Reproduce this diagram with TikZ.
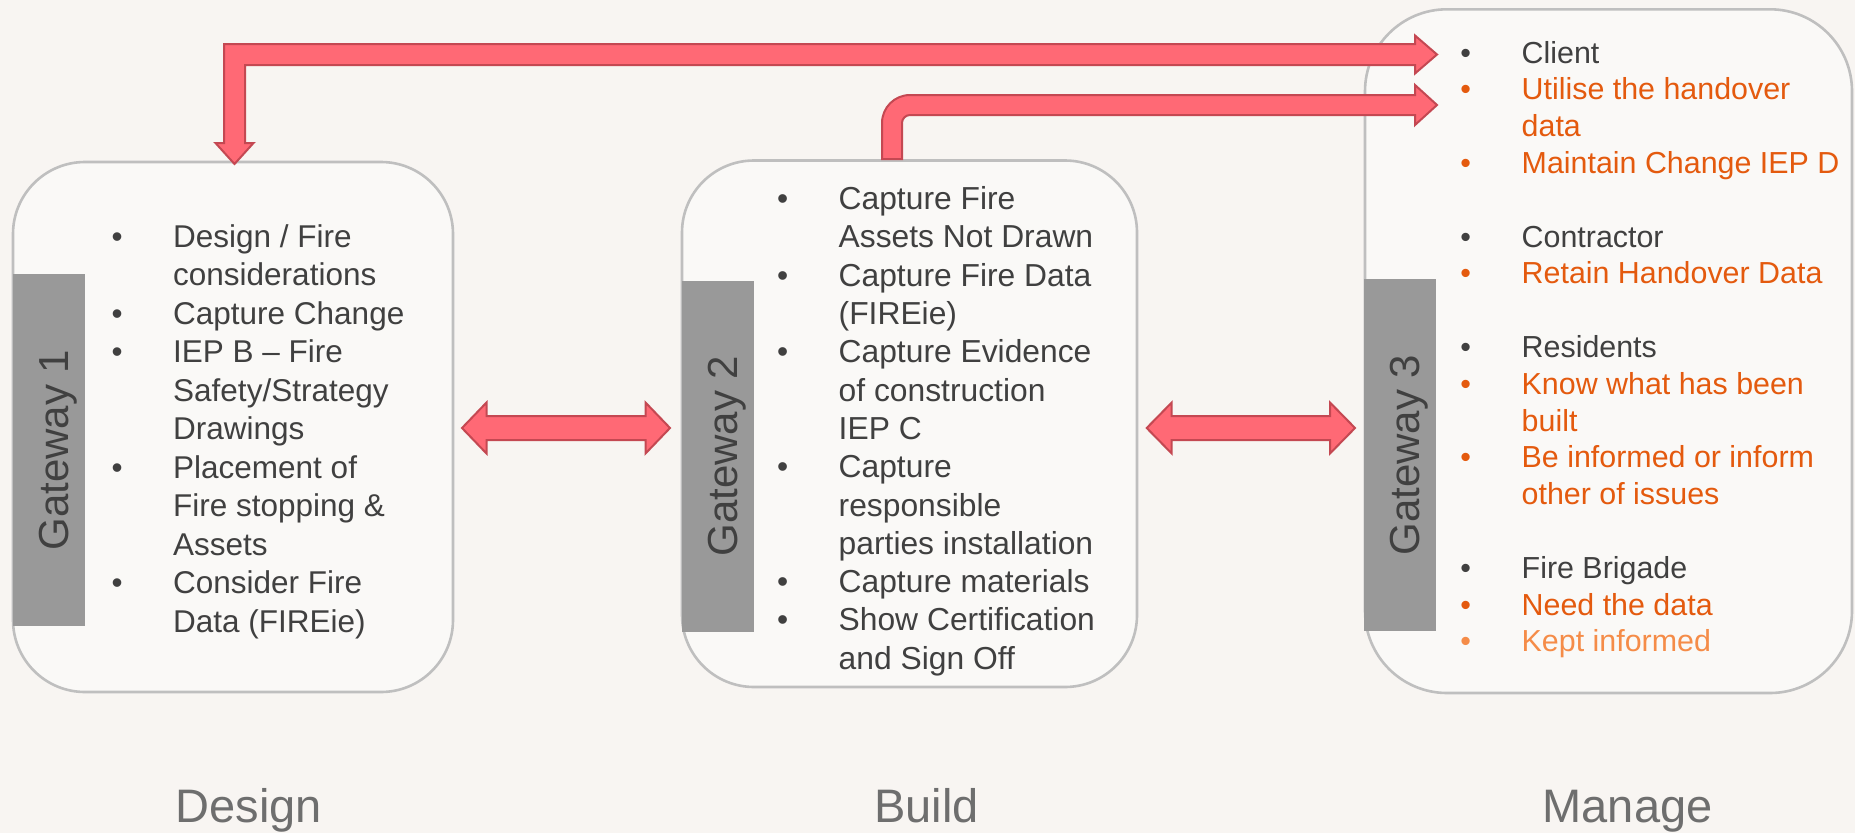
\documentclass[tikz,border=0pt]{standalone}
\usepackage{fontspec}
\setmainfont{Liberation Sans}
\definecolor{bgc}{RGB}{248,245,242}
\definecolor{boxfill}{RGB}{250,249,247}
\definecolor{boxline}{RGB}{191,191,191}
\definecolor{barc}{RGB}{153,153,153}
\definecolor{txt}{RGB}{64,64,64}
\definecolor{org}{RGB}{228,90,14}
\definecolor{lorg}{RGB}{245,140,72}
\definecolor{arrfill}{RGB}{255,105,117}
\definecolor{arrline}{RGB}{196,72,82}
\definecolor{lab}{RGB}{110,110,110}
\newcommand\bu{\makebox[20pt][c]{\textbullet}\hspace*{46pt}}
\newcommand\bx{\hspace*{66pt}}
\begin{document}
\begin{tikzpicture}[x=1pt,y=-1pt,
  box/.style={draw=boxline, line width=2.6pt, fill=boxfill, inner sep=0pt},
  bar/.style={fill=barc, inner sep=0pt, minimum width=72pt},
  gw/.style={rotate=90, anchor=base, text=txt, inner sep=0pt, font=\fontsize{42}{50}\selectfont},
  blockarrow/.style={fill=arrfill, draw=arrline, line width=2pt, line join=miter},
  list/.style={anchor=base west, inner sep=0pt, text=txt},
  phase/.style={anchor=base, text=lab, inner sep=0pt, font=\fontsize{47}{56}\selectfont}]
\fill[bgc] (0,0) rectangle (1855,833);
\useasboundingbox (0,0) rectangle (1855,833);

% boxes
\node[box, minimum width=440pt, minimum height=530pt, rounded corners=72pt] (b1) at (233,427) {};
\node[box, minimum width=455pt, minimum height=526.5pt, rounded corners=72pt] (b2) at (909.5,423.75) {};
\node[box, minimum width=487pt, minimum height=683.7pt, rounded corners=82pt] (b3) at (1608.5,351.15) {};

% gateway bars
\node[bar, minimum height=352pt] (g1) at (49,450) {};
\node[bar, minimum height=351pt] (g2) at (718,456) {};
\node[bar, minimum height=352pt] (g3) at (1400,455) {};
\node[gw] (g1t) at (68,450) {Gateway 1};
\node[gw] (g2t) at (737,456) {Gateway 2};
\node[gw] (g3t) at (1419,455) {Gateway 3};

% lists
\node[list, font=\fontsize{31.5}{38.5}\selectfont] (l1) at (107,247) {%
\begin{tabular}[t]{@{}l@{}}
\bu Design / Fire\\
\bx considerations\\
\bu Capture Change\\
\bu IEP B – Fire\\
\bx Safety/Strategy\\
\bx Drawings\\
\bu Placement of\\
\bx Fire stopping \&\\
\bx Assets\\
\bu Consider Fire\\
\bx Data (FIREie)
\end{tabular}};

\node[list, font=\fontsize{31.8}{38.3}\selectfont] (l2) at (772.5,209.6) {%
\begin{tabular}[t]{@{}l@{}}
\bu Capture Fire\\
\bx Assets Not Drawn\\
\bu Capture Fire Data\\
\bx (FIREie)\\
\bu Capture Evidence\\
\bx of construction\\
\bx IEP C\\
\bu Capture\\
\bx responsible\\
\bx parties installation\\
\bu Capture materials\\
\bu Show Certification\\
\bx and Sign Off
\end{tabular}};

\node[list, font=\fontsize{30.4}{36.8}\selectfont] (l3) at (1455.5,63) {%
\begin{tabular}[t]{@{}l@{}}
\bu Client\\
{\color{org}\bu Utilise the handover}\\
{\color{org}\bx data}\\
{\color{org}\bu Maintain Change IEP D}\\
\\
\bu Contractor\\
{\color{org}\bu Retain Handover Data}\\
\\
\bu Residents\\
{\color{org}\bu Know what has been}\\
{\color{org}\bx built}\\
{\color{org}\bu Be informed or inform}\\
{\color{org}\bx other of issues}\\
\\
\bu Fire Brigade\\
{\color{org}\bu Need the data}\\
{\color{lorg}\bu Kept informed}
\end{tabular}};

% double arrows between boxes
\draw[blockarrow] (462,428) -- (486.5,402.5) -- (486.5,416) -- (645.5,416) -- (645.5,402.5)
  -- (670,428) -- (645.5,453.5) -- (645.5,440) -- (486.5,440) -- (486.5,453.5) -- cycle;
\draw[blockarrow] (1146.7,428) -- (1171.7,402.5) -- (1171.7,416) -- (1330,416) -- (1330,402.5)
  -- (1355,428) -- (1330,453.5) -- (1330,440) -- (1171.7,440) -- (1171.7,453.5) -- cycle;

% L arrow from Manage to Design (two heads)
\draw[blockarrow] (234.5,164) -- (253.5,143) -- (245,143) -- (245,65) -- (1415,65) -- (1415,73.5)
  -- (1437,54.5) -- (1415,35.5) -- (1415,44) -- (224,44) -- (224,143) -- (215.5,143) -- cycle;

% L arrow from Build to Manage
\draw[blockarrow] (882,159) -- (882,123) arc[start angle=180, end angle=270, radius=28]
  -- (1415,95) -- (1415,85) -- (1437,105) -- (1415,125) -- (1415,115) -- (910,115)
  arc[start angle=270, end angle=180, radius=8] -- (902,159) -- cycle;

% phase labels
\node[phase] (p1) at (249,822.7) {Design};
\node[phase] (p2) at (926.5,822.7) {Build};
\node[phase] (p3) at (1627.5,822.7) {Manage};
\end{tikzpicture}
\end{document}
